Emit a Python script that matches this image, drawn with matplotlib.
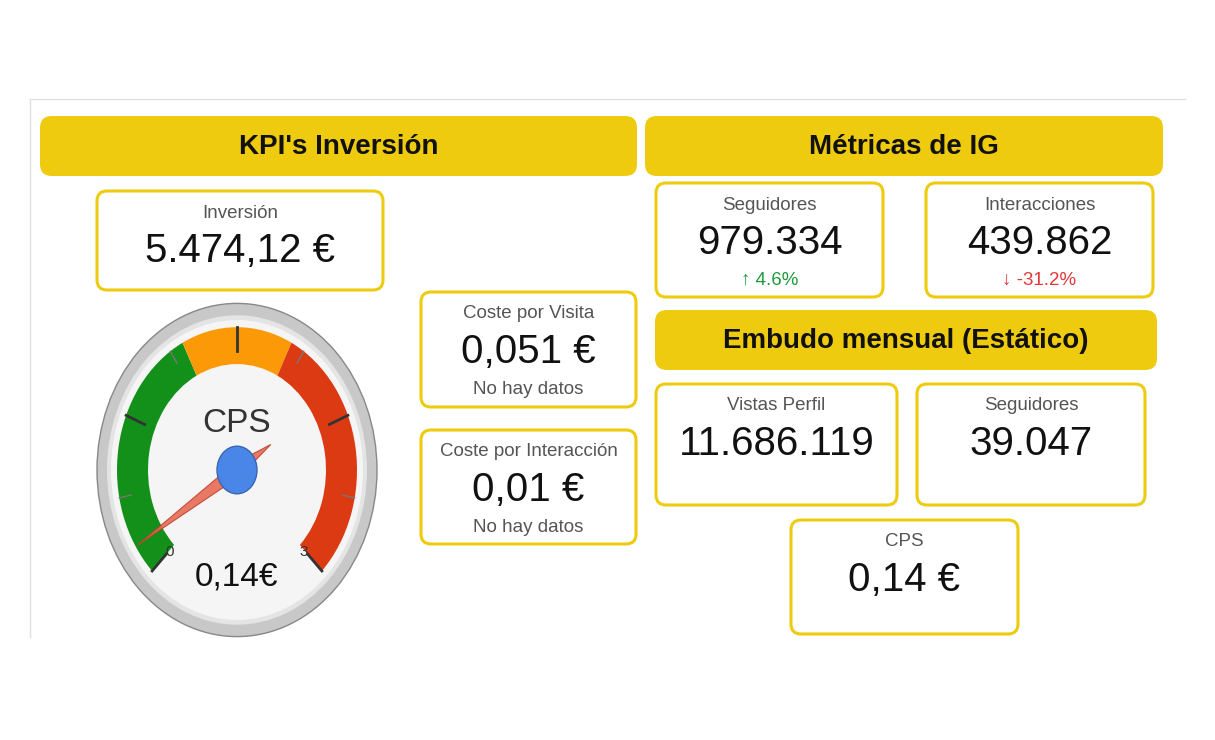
import numpy as np
import matplotlib.pyplot as plt
from matplotlib.patches import FancyBboxPatch, Wedge, Circle, Polygon
from matplotlib.transforms import Affine2D

plt.rcParams['font.family'] = ['Liberation Sans', 'DejaVu Sans']

YELLOW = '#eecb0f'

# headers: text, x0, y0, x1, y1
headers = [
    ("KPI's Inversión", 40, 116, 637, 176),
    ("Métricas de IG", 645, 116, 1163, 176),
    ("Embudo mensual (Estático)", 655, 310, 1157, 370),
]

# cards: label, value, note, x0, y0, x1, y1
card_labels = ["Inversión", "Coste por Visita", "Coste por Interacción",
               "Seguidores", "Interacciones", "Vistas Perfil", "Seguidores", "CPS"]
card_values = ["5.474,12 €", "0,051 €", "0,01 €", "979.334", "439.862",
               "11.686.119", "39.047", "0,14 €"]
card_notes = ["", "No hay datos", "No hay datos", "↑ 4.6%", "↓ -31.2%", "", "", ""]
card_boxes = [(97, 191, 383, 290), (421, 292, 636, 407), (421, 430, 636, 544),
              (656, 183, 883, 297), (926, 183, 1153, 297), (656, 384, 897, 505),
              (917, 384, 1145, 505), (791, 520, 1018, 634)]

# gauge
gauge_value = 0.14
gauge_min, gauge_max = 0, 3
gauge_bands = [(0, 1.2, '#129019'), (1.2, 1.8, '#fb9a06'), (1.8, 3, '#db3a12')]
gauge_label = "CPS"
gauge_text = "0,14€"

fig = plt.figure(figsize=(12.15, 7.4), dpi=100)
ax = fig.add_axes([0, 0, 1, 1])
ax.set_xlim(0, 1215)
ax.set_ylim(740, 0)
ax.axis('off')

ax.plot([30, 1185], [99, 99], color='#e0e0e0', lw=1)
ax.plot([30, 30], [99, 637], color='#e0e0e0', lw=1)

for t, x0, y0, x1, y1 in headers:
    ax.add_patch(FancyBboxPatch((x0, y0), x1 - x0, y1 - y0,
                                boxstyle='round,pad=0,rounding_size=12',
                                fc=YELLOW, ec='none'))
    ax.text((x0 + x1) / 2, (y0 + y1) / 2 + 1, t, ha='center', va='center',
            fontsize=20, fontweight='bold', color='#111111')

for lab, val, note, (x0, y0, x1, y1) in zip(card_labels, card_values, card_notes, card_boxes):
    ax.add_patch(FancyBboxPatch((x0, y0), x1 - x0, y1 - y0,
                                boxstyle='round,pad=0,rounding_size=10',
                                fc='white', ec=YELLOW, lw=2.2))
    cx = (x0 + x1) / 2
    ax.text(cx, y0 + 22, lab, ha='center', va='center', fontsize=13.5, color='#555555')
    ax.text(cx, y0 + 60, val, ha='center', va='center', fontsize=29, color='#111111')
    if note:
        col = '#555555'
        if note.startswith('↑'):
            col = '#1f9a3b'
        elif note.startswith('↓'):
            col = '#e03a3a'
        ax.text(cx, y0 + 97, note, ha='center', va='center', fontsize=13.5, color=col)

# gauge drawing in local coords (y down), stretched vertically
cx, cy = 237, 470
sy = 1.19
tr = Affine2D().scale(1, sy).translate(cx, cy) + ax.transData


def ang(v):
    return 225 - 270 * (v - gauge_min) / (gauge_max - gauge_min)


ax.add_patch(Circle((0, 0), 140, fc='#c8c8c8', ec='#888888', lw=1, transform=tr))
ax.add_patch(Circle((0, 0), 130, fc='#e4e4e4', ec='none', transform=tr))
ax.add_patch(Circle((0, 0), 126, fc='#f5f5f5', ec='none', transform=tr))
for a, b, c in gauge_bands:
    ax.add_patch(Wedge((0, 0), 120, -ang(a), -ang(b), width=31, fc=c, ec='none', transform=tr))
ticks = np.arange(0, 3.0001, 0.375)
for i, v in enumerate(ticks):
    t = np.radians(ang(v))
    major = i % 2 == 0
    r0 = 100 if major else 108
    ax.plot([r0 * np.cos(t), 120 * np.cos(t)], [-r0 * np.sin(t), -120 * np.sin(t)],
            color='#333333' if major else '#777777', lw=2 if major else 1, transform=tr)
for v, s in [(gauge_min, '0'), (gauge_max, '3')]:
    t = np.radians(ang(v))
    ax.text(cx + 82 * np.cos(t) + (-9 if v == 0 else 9), cy - 82 * np.sin(t) * sy + 13, s,
            ha='center', va='center', fontsize=11, color='#333333')
ax.text(cx, cy - 47, gauge_label, ha='center', va='center', fontsize=24, color='#333333')
ax.text(cx, cy + 107, gauge_text, ha='center', va='center', fontsize=24, color='#111111')

t = np.radians(ang(gauge_value))
tip = (118 * np.cos(t), -118 * np.sin(t))
tail = (-40 * np.cos(t), 40 * np.sin(t))
perp = (np.sin(t) * 6, np.cos(t) * 6)
ax.add_patch(Polygon([tip, perp, tail, (-perp[0], -perp[1])],
                     fc='#e86a55', ec='#c0442f', lw=0.8, alpha=0.9, transform=tr))
ax.add_patch(Circle((0, 0), 20, fc='#4a86e8', ec='#3a66b0', lw=1, transform=tr))

fig.savefig('out.png', dpi=100)
